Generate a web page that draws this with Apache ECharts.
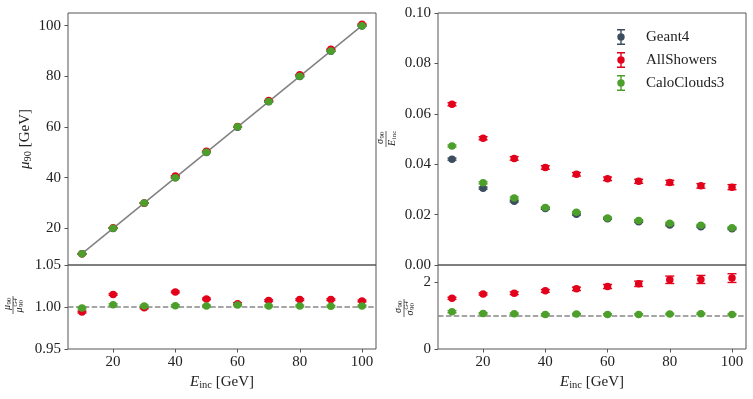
<!DOCTYPE html>
<html><head><meta charset="utf-8">
<script src="https://cdn.jsdelivr.net/npm/echarts@6/dist/echarts.min.js"></script>
<style>html,body{margin:0;padding:0;background:#fff}#c{width:753px;height:399px}</style>
</head><body><div id="c"></div>
<script>
// ---------------- data ----------------
const energies = [10, 20, 30, 40, 50, 60, 70, 80, 90, 100];
const xTicks = [20, 40, 60, 80, 100];
const muTicks = [20, 40, 60, 80, 100];
const muRatioTicks = [0.95, 1.00, 1.05];
const resTicks = [0, 0.02, 0.04, 0.06, 0.08, 0.10];
const resRatioTicks = [0, 2];
const diagonal = [10, 100];

const g4Mu  = [9.98, 19.93, 29.95, 39.91, 49.92, 59.90, 69.93, 79.91, 89.88, 99.86];
const asMu  = [9.92, 20.23, 29.92, 40.64, 50.40, 60.14, 70.46, 80.61, 90.67, 100.58];
const ccMu  = [9.97, 19.99, 29.99, 39.97, 49.98, 60.04, 70.01, 80.01, 89.95, 99.98];
const muErr = [0.02, 0.03, 0.04, 0.05, 0.06, 0.07, 0.08, 0.09, 0.10, 0.11];

const asMuRatio = [0.994, 1.015, 0.999, 1.018, 1.0096, 1.004, 1.0076, 1.0088, 1.0088, 1.0072];
const ccMuRatio = [0.9988, 1.0028, 1.0012, 1.0016, 1.0012, 1.0024, 1.0012, 1.0012, 1.0008, 1.0012];
const muRatioErr = [0.001, 0.001, 0.001, 0.001, 0.001, 0.001, 0.001, 0.001, 0.001, 0.001];

const g4Res = [0.0420, 0.0305, 0.0253, 0.0224, 0.0201, 0.0184, 0.0172, 0.0159, 0.0152, 0.0144];
const asRes = [0.0638, 0.0503, 0.0423, 0.0387, 0.0360, 0.0342, 0.0332, 0.0327, 0.0314, 0.0309];
const ccRes = [0.0472, 0.0326, 0.0266, 0.0228, 0.0209, 0.0187, 0.0177, 0.0166, 0.0158, 0.0148];
const g4ResErr = [0.0004, 0.0004, 0.0003, 0.0003, 0.0003, 0.0003, 0.0003, 0.0003, 0.0003, 0.0003];
const asResErr = [0.0006, 0.0006, 0.0007, 0.0007, 0.0007, 0.0007, 0.0008, 0.0009, 0.0009, 0.0010];
const ccResErr = [0.0004, 0.0004, 0.0004, 0.0003, 0.0003, 0.0003, 0.0003, 0.0003, 0.0003, 0.0003];

const asResRatio = [1.51, 1.64, 1.66, 1.73, 1.79, 1.86, 1.94, 2.06, 2.07, 2.11];
const ccResRatio = [1.11, 1.06, 1.05, 1.03, 1.04, 1.03, 1.03, 1.04, 1.05, 1.03];
const asResRatioErr = [0.03, 0.03, 0.04, 0.04, 0.05, 0.06, 0.08, 0.11, 0.12, 0.13];
const ccResRatioErr = [0.03, 0.02, 0.02, 0.02, 0.02, 0.02, 0.02, 0.02, 0.02, 0.02];

// ---------------- styling ----------------
const C_G4 = '#3b4d5e', C_AS = '#e2001a', C_CC = '#4c9f2a';
const FONT = 'Liberation Serif';
const AX = '#555';
const TXT = '#222';

const chart = echarts.init(document.getElementById('c'), null, {renderer: 'canvas'});

function pts(ys) { return energies.map((e, i) => [e, ys[i]]); }
function errs(ys, es) { return energies.map((e, i) => [e, ys[i] - es[i], ys[i] + es[i]]); }

function scatter(name, color, ys, xi, z) {
  return {type: 'scatter', name, xAxisIndex: xi, yAxisIndex: xi, data: pts(ys),
    symbolSize: 7.5, itemStyle: {color, opacity: 1}, z: z, silent: true, animation: false};
}
function errbar(color, ys, es, xi, z) {
  return {type: 'custom', xAxisIndex: xi, yAxisIndex: xi, data: errs(ys, es), z: z, silent: true,
    animation: false, clip: false,
    encode: {x: 0, y: [1, 2]},
    renderItem: function (params, api) {
      const x = api.value(0);
      const p1 = api.coord([x, api.value(1)]);
      const p2 = api.coord([x, api.value(2)]);
      const hw = 4.5;
      const st = {stroke: color, lineWidth: 1.4};
      return {type: 'group', children: [
        {type: 'line', shape: {x1: p1[0], y1: p1[1], x2: p2[0], y2: p2[1]}, style: st},
        {type: 'line', shape: {x1: p1[0] - hw, y1: p1[1], x2: p1[0] + hw, y2: p1[1]}, style: st},
        {type: 'line', shape: {x1: p2[0] - hw, y1: p2[1], x2: p2[0] + hw, y2: p2[1]}, style: st}
      ]};
    }};
}
function dashedOne(xi) {
  return {type: 'line', xAxisIndex: xi, yAxisIndex: xi, data: [], silent: true, z: 1,
    markLine: {silent: true, symbol: ['none', 'none'], label: {show: false},
      lineStyle: {color: '#888', width: 1.5, type: [5.5, 2.4]},
      data: [{yAxis: 1}], animation: false}};
}

const grids = [
  {left: 68, top: 13, width: 308, height: 252},
  {left: 68, top: 265, width: 308, height: 84},
  {left: 438, top: 13, width: 308, height: 252},
  {left: 438, top: 265, width: 308, height: 84}
].map(g => Object.assign(g, {show: true, borderColor: AX, borderWidth: 1, backgroundColor: 'transparent', containLabel: false}));

const xNameRich = {
  it: {fontFamily: FONT, fontStyle: 'italic', fontSize: 15, color: TXT, verticalAlign: 'middle'},
  sub: {fontFamily: FONT, fontSize: 10.5, color: TXT, verticalAlign: 'bottom', padding: [6, 0, 0, 0]},
  n: {fontFamily: FONT, fontSize: 15, color: TXT, verticalAlign: 'middle'}
};

function xAxis(gi, showLabels) {
  return {type: 'value', gridIndex: gi, min: 5.5, max: 104.5,
    axisLine: {show: false}, splitLine: {show: false},
    axisTick: {show: showLabels, length: 3.5, lineStyle: {color: AX}, customValues: xTicks},
    axisLabel: {show: showLabels, customValues: xTicks, fontFamily: FONT, fontSize: 15, color: TXT, margin: 6},
    name: showLabels ? '{it|E}{sub|inc}{n| [GeV]}' : '',
    nameLocation: 'middle', nameGap: 25,
    nameTextStyle: {rich: xNameRich}
  };
}
function yAxis(gi, min, max, ticks, fmt, name, nameGap) {
  return {type: 'value', gridIndex: gi, min, max,
    axisLine: {show: false}, splitLine: {show: false},
    axisTick: {show: true, length: 3.5, lineStyle: {color: AX}, customValues: ticks},
    axisLabel: {customValues: ticks, fontFamily: FONT, fontSize: 15, color: TXT, margin: 7, formatter: fmt},
    name: name || '', nameLocation: 'middle', nameGap: nameGap || 0, nameRotate: 90,
    nameTextStyle: {rich: xNameRich}
  };
}

const legendIcon = 'path://M0,0H8V1.4H0Z M3.3,0H4.7V16H3.3Z M0,14.6H8V16H0Z M7.7,8A3.7,3.7,0,1,1,0.3,8A3.7,3.7,0,1,1,7.7,8Z';

// fraction labels as graphic groups
function frac(cx, cy, numParts, denParts, barHalf) {
  const children = [];
  numParts.forEach(p => children.push({type: 'text', x: p.x, y: p.y - 6, style: {text: p.t, font: p.f, fill: TXT, align: 'center', verticalAlign: 'middle'}}));
  denParts.forEach(p => children.push({type: 'text', x: p.x, y: p.y + 6, style: {text: p.t, font: p.f, fill: TXT, align: 'center', verticalAlign: 'middle'}}));
  children.push({type: 'line', shape: {x1: -barHalf, y1: 0, x2: barHalf, y2: 0}, style: {stroke: TXT, lineWidth: 0.7}});
  return {type: 'group', x: cx, y: cy, rotation: Math.PI / 2, children};
}
const fi = 'italic 10px ' + FONT, fs = '7px ' + FONT, fsi = 'italic 7px ' + FONT;

const graphics = [
  frac(386, 139,
    [{t: 'σ', f: fi, x: -2.5, y: 0}, {t: '90', f: fs, x: 4, y: 2.5}],
    [{t: 'E', f: fi, x: -4, y: 0}, {t: 'inc', f: fs, x: 4, y: 2.5}], 8),
  frac(13, 305,
    [{t: 'μ', f: fi, x: -2.5, y: 0}, {t: '90', f: fs, x: 4, y: 2.5}],
    [{t: 'μ', f: fi, x: -5, y: 0}, {t: '90', f: fs, x: 1.5, y: 2.5}, {t: 'G4', f: fsi, x: 2.5, y: -3.5}], 9),
  frac(404, 308,
    [{t: 'σ', f: fi, x: -2.5, y: 0}, {t: '90', f: fs, x: 4, y: 2.5}],
    [{t: 'σ', f: fi, x: -5, y: 0}, {t: '90', f: fs, x: 1.5, y: 2.5}, {t: 'G4', f: fsi, x: 2.5, y: -3.5}], 9)
];

const option = {
  backgroundColor: '#fff',
  animation: false,
  grid: grids,
  xAxis: [xAxis(0, false), xAxis(1, true), xAxis(2, false), xAxis(3, true)],
  yAxis: [
    yAxis(0, 5.5, 105, muTicks, v => String(v), '{it|μ}{sub|90}{n| [GeV]}', 34),
    yAxis(1, 0.95, 1.05, muRatioTicks, v => v.toFixed(2)),
    yAxis(2, 0, 0.10, resTicks, v => v.toFixed(2)),
    yAxis(3, 0, 2.5, resRatioTicks, v => String(v))
  ],
  legend: {
    orient: 'vertical', left: 612, top: 24, itemWidth: 8, itemHeight: 16, itemGap: 7,
    textStyle: {fontFamily: FONT, fontSize: 15, color: TXT, padding: [0, 0, 0, 16]},
    selectedMode: false,
    data: [{name: 'Geant4', icon: legendIcon}, {name: 'AllShowers', icon: legendIcon}, {name: 'CaloClouds3', icon: legendIcon}]
  },
  graphic: graphics,
  series: [
    {type: 'line', xAxisIndex: 0, yAxisIndex: 0, data: [[diagonal[0], diagonal[0]], [diagonal[1], diagonal[1]]],
      showSymbol: false, symbol: 'none', lineStyle: {color: '#808080', width: 1.5}, z: 1, silent: true},
    errbar(C_G4, g4Mu, muErr, 0, 2), scatter('Geant4', C_G4, g4Mu, 0, 3),
    errbar(C_AS, asMu, muErr, 0, 4), scatter('AllShowers', C_AS, asMu, 0, 5),
    errbar(C_CC, ccMu, muErr, 0, 6), scatter('CaloClouds3', C_CC, ccMu, 0, 7),
    dashedOne(1),
    errbar(C_AS, asMuRatio, muRatioErr, 1, 4), scatter('AllShowers', C_AS, asMuRatio, 1, 5),
    errbar(C_CC, ccMuRatio, muRatioErr, 1, 6), scatter('CaloClouds3', C_CC, ccMuRatio, 1, 7),
    errbar(C_G4, g4Res, g4ResErr, 2, 2), scatter('Geant4', C_G4, g4Res, 2, 3),
    errbar(C_AS, asRes, asResErr, 2, 4), scatter('AllShowers', C_AS, asRes, 2, 5),
    errbar(C_CC, ccRes, ccResErr, 2, 6), scatter('CaloClouds3', C_CC, ccRes, 2, 7),
    dashedOne(3),
    errbar(C_AS, asResRatio, asResRatioErr, 3, 4), scatter('AllShowers', C_AS, asResRatio, 3, 5),
    errbar(C_CC, ccResRatio, ccResRatioErr, 3, 6), scatter('CaloClouds3', C_CC, ccResRatio, 3, 7)
  ]
};
chart.setOption(option);
</script></body></html>
